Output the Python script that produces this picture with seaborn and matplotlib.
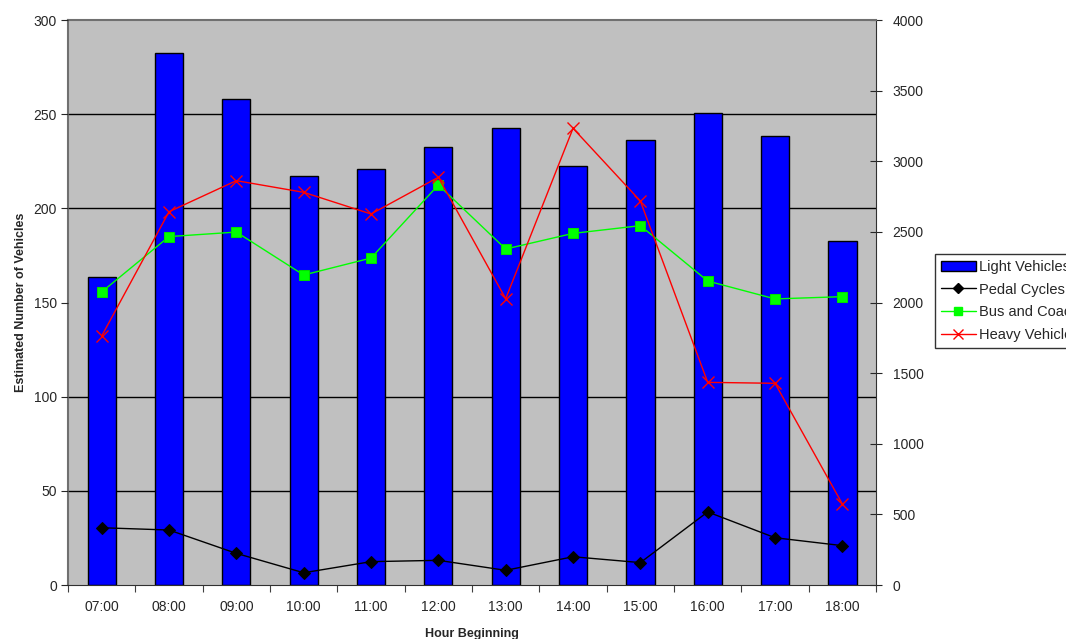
import numpy as np
import pandas as pd
import seaborn as sns
import matplotlib.pyplot as plt
from matplotlib.lines import Line2D
from matplotlib.patches import Patch

sns.set_style('ticks')
plt.rcParams['font.family'] = ['Liberation Sans', 'DejaVu Sans']

hours = ['07:00', '08:00', '09:00', '10:00', '11:00', '12:00',
         '13:00', '14:00', '15:00', '16:00', '17:00', '18:00']
light_vehicles = [2178, 3768, 3441, 2898, 2943, 3103, 3233, 2969, 3150, 3339, 3181, 2433]
pedal_cycles = [30.4, 29.2, 16.8, 6.5, 12.4, 13.1, 7.8, 15.0, 11.9, 38.8, 25.1, 20.9]
bus_coaches = [155.6, 185.0, 187.4, 164.6, 173.6, 212.4, 178.4, 186.7, 190.8, 161.4, 151.9, 153.1]
heavy_vehicles = [132.2, 198.2, 214.7, 208.5, 197.0, 216.5, 152.0, 242.5, 203.9, 107.6, 107.1, 43.0]

fig, ax = plt.subplots(figsize=(10.66, 6.39), dpi=100)
fig.subplots_adjust(left=0.0638, right=0.8218, bottom=0.0845, top=0.9687)
ax.set_facecolor('#c0c0c0')

# bars on the right hand axis (0-4000)
df = pd.DataFrame({'hour': hours, 'light': light_vehicles})
sns.barplot(data=df, x='hour', y='light', color='#0000ff', saturation=1,
            width=0.42, edgecolor='black', linewidth=1, ax=ax)
ax.set_xlim(-0.5, 11.5)
ax.set_ylim(0, 4000)
ax.set_yticks(range(0, 4001, 500))
ax.set_yticks(np.arange(1, 7) * 4000 / 6, minor=True)
ax.grid(which='minor', axis='y', color='black', lw=1)
ax.set_axisbelow(True)
ax.set_ylabel('')
ax.set_xlabel('Hour Beginning', fontsize=9, fontweight='bold', labelpad=10)

# category boundaries as ticks, labels in the middle
ax.set_xticks(np.arange(-0.5, 12, 1))
ax.set_xticklabels([])
ax.set_xticks(range(12), labels=hours, minor=True)
ax.tick_params(axis='x', which='major', length=5, color='#404040')
ax.tick_params(axis='x', which='minor', length=0, labelsize=10, pad=11)

for s in ['left', 'top']:
    ax.spines[s].set_color('#707070')
    ax.spines[s].set_linewidth(1.5)
for s in ['bottom', 'right']:
    ax.spines[s].set_color('#303030')

# lines on the left hand axis (0-300)
ax2 = ax.twinx()
sns.lineplot(x=hours, y=pedal_cycles, color='black', marker='D', markersize=6,
             markeredgecolor='black', lw=1, ax=ax2)
sns.lineplot(x=hours, y=bus_coaches, color='#00ff00', marker='s', markersize=7,
             markeredgecolor='#00dd00', lw=1, ax=ax2)
sns.lineplot(x=hours, y=heavy_vehicles, color='red', marker='x', markersize=8,
             markeredgecolor='red', markeredgewidth=1, lw=1, ax=ax2)
ax2.set_ylim(0, 300)
ax2.yaxis.tick_left()
ax2.yaxis.set_label_position('left')
ax2.set_yticks(range(0, 301, 50))
ax2.tick_params(axis='y', length=5, labelsize=10, pad=3)
ax2.set_ylabel('Estimated Number of Vehicles', fontsize=9, fontweight='bold', labelpad=5)
for s in ax2.spines.values():
    s.set_visible(False)

# twinx moved the bar axis ticks to the left, put them back on the right
ax.yaxis.tick_right()
ax.tick_params(axis='y', which='minor', length=0)
ax.tick_params(axis='y', which='major', direction='inout', length=8, labelsize=10, pad=8)

handles = [
    Patch(facecolor='#0000ff', edgecolor='black', label='Light Vehicles'),
    Line2D([], [], color='black', marker='D', markersize=5, lw=1, label='Pedal Cycles'),
    Line2D([], [], color='#00ff00', marker='s', markersize=6, lw=1, label='Bus and Coaches'),
    Line2D([], [], color='red', marker='x', markersize=7, lw=1, label='Heavy Vehicles'),
]
leg = fig.legend(handles=handles, loc='upper left', bbox_to_anchor=(935 / 1066, 1 - 254 / 639),
                 fontsize=10.5, frameon=True, fancybox=False, edgecolor='black',
                 handlelength=2.4, borderpad=0.4, labelspacing=0.6, handletextpad=0.25,
                 borderaxespad=0)
leg.get_frame().set_linewidth(1)

fig.savefig('out.png', dpi=100)
